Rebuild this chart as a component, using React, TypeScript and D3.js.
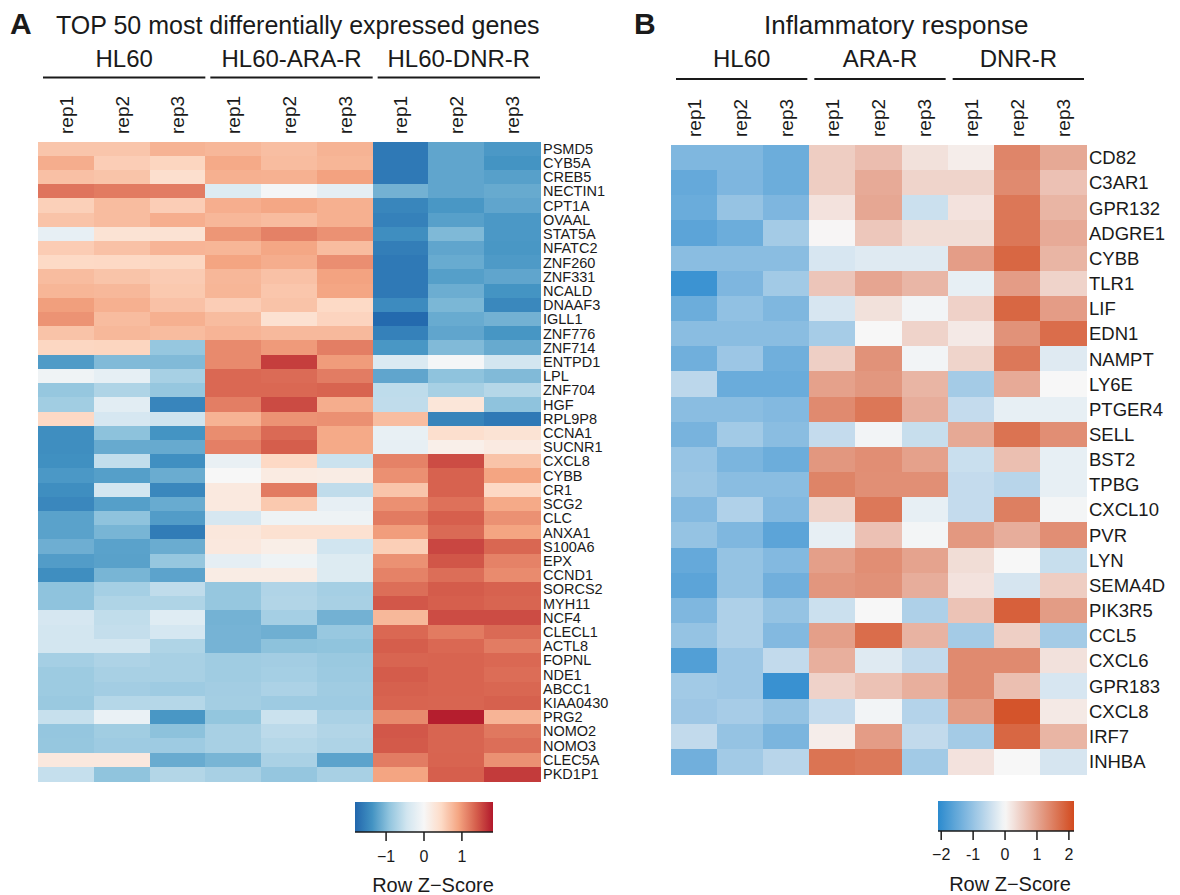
import React from 'react';
import * as d3 from 'd3';

const FONT = '"Liberation Sans", Arial, Helvetica, sans-serif';
const INK = '#1a1a1a';

const REPS = ['rep1', 'rep2', 'rep3'];
const GROUPS_A = ['HL60', 'HL60-ARA-R', 'HL60-DNR-R'];
const GROUPS_B = ['HL60', 'ARA-R', 'DNR-R'];

const GENES_A = [
  'PSMD5', 'CYB5A', 'CREB5', 'NECTIN1', 'CPT1A', 'OVAAL', 'STAT5A', 'NFATC2', 'ZNF260',
  'ZNF331', 'NCALD', 'DNAAF3', 'IGLL1', 'ZNF776', 'ZNF714', 'ENTPD1', 'LPL', 'ZNF704',
  'HGF', 'RPL9P8', 'CCNA1', 'SUCNR1', 'CXCL8', 'CYBB', 'CR1', 'SCG2', 'CLC', 'ANXA1',
  'S100A6', 'EPX', 'CCND1', 'SORCS2', 'MYH11', 'NCF4', 'CLECL1', 'ACTL8', 'FOPNL',
  'NDE1', 'ABCC1', 'KIAA0430', 'PRG2', 'NOMO2', 'NOMO3', 'CLEC5A', 'PKD1P1',
];

// row z-scores, columns: HL60 rep1-3, ARA-R rep1-3, DNR-R rep1-3
const Z_A = [
  [0.64, 0.64, 0.79, 0.76, 0.7, 0.79, -1.63, -1.2, -1.32],
  [0.84, 0.57, 0.5, 0.87, 0.72, 0.77, -1.63, -1.2, -1.36],
  [0.68, 0.65, 0.39, 0.82, 0.81, 0.93, -1.63, -1.2, -1.25],
  [1.23, 1.19, 1.18, -0.31, -0.04, -0.22, -1.09, -1.2, -1.16],
  [0.55, 0.72, 0.57, 0.83, 0.89, 0.82, -1.5, -1.33, -1.2],
  [0.66, 0.72, 0.83, 0.76, 0.72, 0.82, -1.55, -1.25, -1.32],
  [-0.19, 0.33, 0.34, 1.01, 1.15, 1.04, -1.42, -1.02, -1.32],
  [0.58, 0.67, 0.78, 0.77, 0.89, 0.72, -1.58, -1.2, -1.33],
  [0.46, 0.47, 0.49, 0.91, 0.84, 1.06, -1.63, -1.15, -1.3],
  [0.72, 0.65, 0.59, 0.76, 0.67, 0.92, -1.63, -1.26, -1.2],
  [0.77, 0.75, 0.61, 0.77, 0.63, 0.9, -1.63, -1.13, -1.36],
  [0.95, 0.82, 0.67, 0.57, 0.66, 0.46, -1.45, -1.04, -1.48],
  [1.03, 0.72, 0.82, 0.72, 0.36, 0.51, -1.78, -1.15, -1.09],
  [0.66, 0.75, 0.72, 0.78, 0.74, 0.74, -1.55, -1.2, -1.34],
  [0.49, 0.5, -0.88, 1.09, 0.98, 1.17, -1.33, -1.01, -1.16],
  [-1.29, -1.01, -1.01, 1.09, 1.58, 0.97, -0.34, -0.03, -0.43],
  [-0.1, -0.2, -0.76, 1.31, 1.29, 1.18, -1.2, -0.93, -1.01],
  [-0.88, -0.7, -0.88, 1.31, 1.31, 1.34, -0.59, -0.76, -0.66],
  [-0.8, -0.25, -1.51, 1.17, 1.5, 0.84, -0.58, 0.28, -0.93],
  [0.47, -0.4, -0.47, 0.79, 1.03, 1.05, 0.71, -1.52, -1.63],
  [-1.42, -0.94, -1.36, 1.07, 1.3, 0.87, -0.18, 0.39, 0.33],
  [-1.42, -1.16, -1.16, 1.16, 1.38, 0.87, -0.19, 0.13, 0.21],
  [-1.4, -0.56, -1.41, -0.17, 0.47, -0.5, 1.14, 1.49, 0.66],
  [-1.32, -1.26, -1.14, 0.0, 0.2, 0.18, 1.05, 1.35, 0.91],
  [-1.42, -0.43, -1.49, 0.23, 1.19, -0.58, 0.64, 1.35, 0.47],
  [-1.49, -1.26, -1.15, 0.23, 0.61, -0.19, 1.05, 1.25, 0.87],
  [-1.23, -0.93, -1.28, -0.4, -0.11, -0.11, 1.19, 1.37, 1.04],
  [-1.23, -1.06, -1.6, 0.26, 0.36, 0.36, 0.96, 1.3, 0.91],
  [-1.12, -1.23, -1.14, 0.24, 0.15, -0.45, 0.56, 1.53, 1.32],
  [-1.28, -1.24, -0.88, -0.22, -0.11, -0.31, 1.04, 1.43, 1.14],
  [-1.42, -1.06, -1.22, 0.18, 0.18, -0.31, 1.14, 1.27, 1.08],
  [-0.93, -0.77, -0.58, -0.88, -0.69, -0.77, 1.27, 1.39, 1.35],
  [-0.93, -0.7, -0.7, -0.88, -0.68, -0.75, 1.42, 1.37, 1.33],
  [-0.4, -0.57, -0.29, -1.08, -0.77, -1.09, 0.75, 1.49, 1.49],
  [-0.43, -0.55, -0.41, -1.07, -1.11, -0.87, 1.31, 1.19, 1.3],
  [-0.43, -0.43, -0.7, -1.07, -0.94, -0.92, 1.38, 1.31, 1.18],
  [-0.77, -0.71, -0.75, -0.81, -0.79, -0.85, 1.33, 1.34, 1.31],
  [-0.83, -0.75, -0.75, -0.81, -0.77, -0.84, 1.39, 1.34, 1.28],
  [-0.83, -0.79, -0.82, -0.79, -0.72, -0.81, 1.36, 1.34, 1.32],
  [-0.85, -0.66, -0.66, -0.78, -0.82, -0.82, 1.34, 1.33, 1.36],
  [-0.53, -0.16, -1.33, -0.9, -0.5, -0.74, 1.09, 1.78, 0.78],
  [-0.89, -0.8, -0.94, -0.75, -0.61, -0.68, 1.42, 1.33, 1.21],
  [-0.88, -0.82, -0.82, -0.75, -0.66, -0.71, 1.4, 1.33, 1.27],
  [0.24, 0.24, -1.15, -1.06, -0.74, -1.22, 1.18, 1.34, 1.04],
  [-0.54, -0.92, -0.67, -0.75, -0.89, -0.75, 0.91, 1.37, 1.6],
];

const GENES_B = [
  'CD82', 'C3AR1', 'GPR132', 'ADGRE1', 'CYBB', 'TLR1', 'LIF', 'EDN1', 'NAMPT', 'LY6E',
  'PTGER4', 'SELL', 'BST2', 'TPBG', 'CXCL10', 'PVR', 'LYN', 'SEMA4D', 'PIK3R5', 'CCL5',
  'CXCL6', 'GPR183', 'CXCL8', 'IRF7', 'INHBA',
];

const Z_B = [
  [-1.24, -1.24, -1.43, 0.53, 0.72, 0.28, 0.13, 1.42, 0.98],
  [-1.5, -1.25, -1.43, 0.53, 0.96, 0.44, 0.44, 1.36, 0.67],
  [-1.45, -1.0, -1.25, 0.26, 1.0, -0.45, 0.26, 1.6, 0.83],
  [-1.6, -1.43, -0.85, 0.02, 0.6, 0.33, 0.33, 1.6, 0.96],
  [-1.12, -1.12, -1.12, -0.33, -0.25, -0.25, 1.12, 1.8, 0.83],
  [-1.92, -1.25, -0.87, 0.62, 1.02, 0.81, -0.16, 1.13, 0.45],
  [-1.43, -1.05, -1.24, -0.33, 0.28, -0.05, 0.47, 1.8, 1.13],
  [-1.12, -1.12, -1.12, -0.83, 0.0, 0.45, 0.17, 1.26, 1.72],
  [-1.39, -0.94, -1.39, 0.5, 1.26, -0.05, 0.44, 1.58, -0.25],
  [-0.61, -1.45, -1.45, 1.08, 1.2, 0.83, -0.85, 0.96, 0.0],
  [-1.12, -1.12, -1.19, 1.36, 1.6, 0.92, -0.53, -0.16, -0.16],
  [-1.31, -0.87, -1.12, -0.53, -0.05, -0.49, 0.98, 1.65, 1.31],
  [-0.99, -1.28, -1.43, 1.2, 1.31, 1.08, -0.47, 0.7, -0.16],
  [-0.95, -1.12, -1.12, 1.44, 1.3, 1.3, -0.53, -0.65, -0.16],
  [-1.19, -0.73, -1.19, 0.44, 1.58, -0.16, -0.53, 1.5, -0.04],
  [-1.01, -1.24, -1.6, -0.16, 0.67, -0.04, 1.19, 0.92, 1.31],
  [-1.5, -1.01, -1.19, 1.1, 1.31, 1.05, 0.33, 0.0, -0.49],
  [-1.6, -1.01, -1.38, 1.21, 1.27, 0.92, 0.26, -0.34, 0.53],
  [-1.24, -0.75, -1.01, -0.45, 0.0, -0.75, 0.65, 1.88, 1.14],
  [-1.01, -0.75, -1.19, 1.1, 1.72, 0.85, -0.85, 0.5, -0.85],
  [-1.7, -0.93, -0.55, 0.9, -0.25, -0.55, 1.36, 1.36, 0.27],
  [-0.87, -0.93, -1.96, 0.46, 0.66, 0.9, 1.36, 0.7, -0.33],
  [-0.92, -0.82, -1.01, -0.53, -0.05, -0.69, 1.14, 2.04, 0.18],
  [-0.55, -1.01, -1.28, 0.13, 1.13, -0.55, -0.85, 1.8, 0.83],
  [-1.38, -0.87, -0.65, 1.64, 1.57, -0.87, 0.26, 0.0, -0.34],
];

const TICKS_A = [-1, 0, 1];
const TICK_TEXT_A = ['\u22121', '0', '1'];
const TICKS_B = [-2, -1, 0, 1, 2];
const TICK_TEXT_B = ['\u22122', '-1', '0', '1', '2'];

const RDBU9 = ['#2166ac', '#4393c3', '#92c5de', '#d1e5f0', '#f7f7f7', '#fddbc7', '#f4a582', '#d6604d', '#b2182b'];
const DOMAIN_A: [number, number] = [-1.82, 1.82];
const colorA = d3.scaleLinear<string>()
  .domain(d3.range(9).map(i => DOMAIN_A[0] + i * (DOMAIN_A[1] - DOMAIN_A[0]) / 8))
  .range(RDBU9)
  .clamp(true);

const DOMAIN_B: [number, number] = [-2.1, 2.16];
const colorB = d3.scaleLinear<string>()
  .domain([DOMAIN_B[0], 0, DOMAIN_B[1]])
  .range(['#2b8ace', '#f7f7f7', '#d24a1f'])
  .clamp(true);

function Heatmap(p: any) {
  const cols = d3.range(9);
  const x = d3.scaleBand<number>().domain(cols).range([p.x0, p.x1]);
  const y = d3.scaleBand<number>().domain(d3.range(p.genes.length)).range([p.y0, p.y1]);
  const gx = d3.scaleBand<number>().domain([0, 1, 2]).range([p.x0, p.x1]);
  return (
    <g>
      <g shapeRendering="crispEdges">
        {p.z.map((row: number[], i: number) =>
          row.map((v, j) => (
            <rect key={i + '-' + j} x={x(j)} y={y(i)} width={x.bandwidth() + 0.6}
              height={y.bandwidth() + 0.6} fill={p.color(v)} />
          )))}
      </g>
      {p.genes.map((g: string, i: number) => (
        <text key={g + i} x={p.x1 + 3} y={(y(i) as number) + y.bandwidth() / 2} dy="0.36em"
          fontSize={p.geneFont}>{g}</text>
      ))}
      {p.groups.map((g: string, k: number) => {
        const a = (gx(k) as number) + p.lineOff[0];
        const b = (gx(k) as number) + gx.bandwidth() + p.lineOff[1];
        return (
          <g key={g}>
            <text x={(a + b) / 2} y={p.groupY} textAnchor="middle" fontSize={24}>{g}</text>
            <line x1={a} x2={b} y1={p.lineY} y2={p.lineY} stroke={INK} strokeWidth={2} />
          </g>
        );
      })}
      {cols.map(j => (
        <text key={'rep' + j} fontSize={19} dy="0.36em"
          transform={`translate(${(x(j) as number) + x.bandwidth() / 2},${p.repY}) rotate(-90)`}>
          {REPS[j % 3]}
        </text>
      ))}
    </g>
  );
}

function Legend(p: any) {
  const s = d3.scaleLinear().domain(p.domain).range([p.x0, p.x1]);
  const stops = d3.range(0, 1.0001, 0.025);
  const yb = p.y0 + p.h;
  return (
    <g>
      <defs>
        <linearGradient id={p.id} x1="0" x2="1" y1="0" y2="0">
          {stops.map(t => (
            <stop key={t} offset={t} stopColor={p.color(p.domain[0] + t * (p.domain[1] - p.domain[0]))} />
          ))}
        </linearGradient>
      </defs>
      <rect x={p.x0} y={p.y0} width={p.x1 - p.x0} height={p.h} fill={`url(#${p.id})`} />
      <line x1={p.x0} x2={p.x1} y1={yb} y2={yb} stroke={INK} strokeWidth={1.5} />
      {p.ticks.map((t: number, i: number) => (
        <g key={t}>
          <line x1={s(t)} x2={s(t)} y1={yb} y2={yb + 9} stroke={INK} strokeWidth={1.5} />
          <text x={s(t)} y={p.tickY} textAnchor="middle" fontSize={16}>{p.tickText[i]}</text>
        </g>
      ))}
      <text x={p.titleX} y={p.titleY} textAnchor="middle" fontSize={20}>Row Z{'\u2212'}Score</text>
    </g>
  );
}

export default function App() {
  return (
    <div style={{ position: 'absolute', left: 0, top: 0, background: '#fff' }}>
      <svg width={1180} height={895} viewBox="0 0 1180 895" fontFamily={FONT} fill={INK}>
        <rect width={1180} height={895} fill="#fff" />

        <text x={10} y={34} fontSize={30} fontWeight="bold">A</text>
        <text x={56} y={34} fontSize={25}>TOP 50 most differentially expressed genes</text>
        <Heatmap x0={38} x1={540} y0={141.5} y1={781} genes={GENES_A} z={Z_A} color={colorA}
          groups={GROUPS_A} geneFont={14.5} groupY={67} lineY={77.5} lineOff={[5, 0]} repY={134} />
        <Legend id="gradA" x0={355} x1={493} y0={802} h={30} domain={DOMAIN_A} color={colorA}
          ticks={TICKS_A} tickText={TICK_TEXT_A} tickY={862} titleX={433} titleY={892} />

        <text x={634} y={34} fontSize={30} fontWeight="bold">B</text>
        <text x={764} y={34} fontSize={26}>Inflammatory response</text>
        <Heatmap x0={671} x1={1086} y0={145} y1={774} genes={GENES_B} z={Z_B} color={colorB}
          groups={GROUPS_B} geneFont={18.5} groupY={67} lineY={79} lineOff={[5, -2]} repY={137} />
        <Legend id="gradB" x0={938} x1={1074} y0={801} h={30} domain={DOMAIN_B} color={colorB}
          ticks={TICKS_B} tickText={TICK_TEXT_B} tickY={860} titleX={1010} titleY={891} />
      </svg>
    </div>
  );
}
